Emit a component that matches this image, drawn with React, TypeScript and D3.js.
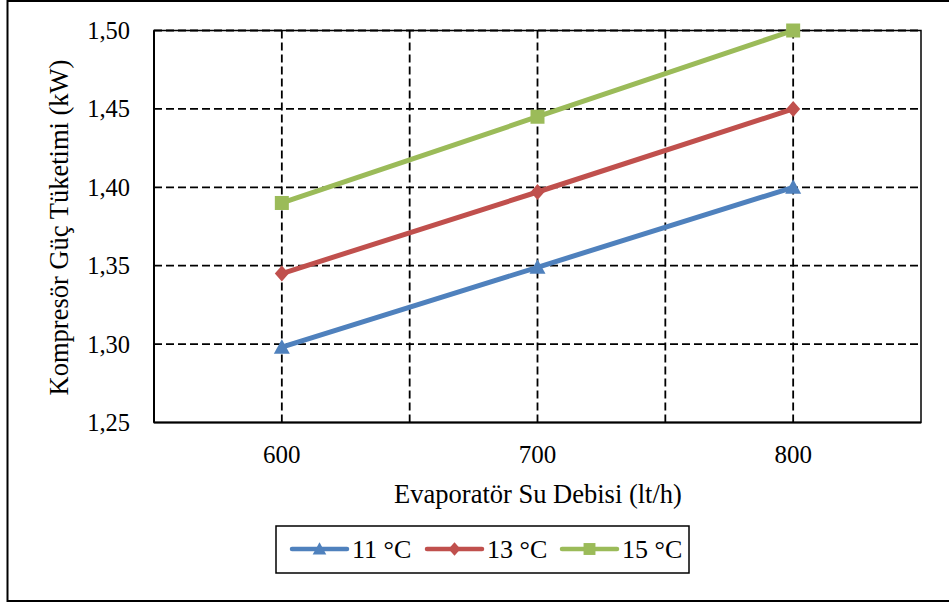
import React from "react";
import * as d3 from "d3";

const flows = [600, 700, 800];
const series11 = [1.298, 1.349, 1.4];
const series13 = [1.345, 1.397, 1.45];
const series15 = [1.39, 1.445, 1.5];
const seriesNames = ["11 °C", "13 °C", "15 °C"];
const seriesColors = ["#4F81BD", "#C0504D", "#9BBB59"];
const seriesMarkers = ["triangle", "diamond", "square"];
const yTicks = [1.25, 1.3, 1.35, 1.4, 1.45, 1.5];
const xGrid = [550, 600, 650, 700, 750, 800, 850];
const xLabels = [600, 700, 800];

const W = 949;
const H = 603;
const plot = { left: 154, right: 921, top: 30.5, bottom: 422.5 };
const FONT = "'Liberation Serif', 'Times New Roman', serif";

function Marker({ kind, x, y, color, scale = 1 }: { kind: string; x: number; y: number; color: string; scale?: number }) {
  if (kind === "square") {
    const s = 14 * scale;
    return <rect x={x - s / 2} y={y - s / 2} width={s} height={s} fill={color} />;
  }
  if (kind === "diamond") {
    const rx = 7 * scale;
    const ry = 8 * scale;
    return <path d={`M${x},${y - ry}L${x + rx},${y}L${x},${y + ry}L${x - rx},${y}Z`} fill={color} />;
  }
  const r = 8 * scale;
  return (
    <path
      d={`M${x},${y - r}L${x + r},${y + r * 0.8}L${x - r},${y + r * 0.8}Z`}
      fill={color}
    />
  );
}

export default function App() {
  const x = d3.scaleLinear().domain([550, 850]).range([plot.left, plot.right]);
  const y = d3.scaleLinear().domain([1.25, 1.5]).range([plot.bottom, plot.top]);
  const all = [series11, series13, series15];
  const line = d3
    .line<number>()
    .x((_, i) => x(flows[i]))
    .y((d) => y(d));
  const fmt = (v: number) => v.toFixed(2).replace(".", ",");

  const legendItems = [
    { lx: 292, tx: 352 },
    { lx: 427, tx: 487 },
    { lx: 562, tx: 622 },
  ];

  return (
    <svg
      width={W}
      height={H}
      style={{ position: "absolute", left: 0, top: 0, background: "#fff" }}
      fontFamily={FONT}
    >
      <rect x={0} y={0} width={W} height={H} fill="#fff" />
      {/* chart frame */}
      <rect x={7.5} y={1} width={W + 10} height={600} fill="none" stroke="#000" strokeWidth={2} />

      {/* plot area frame */}
      <rect
        x={plot.left}
        y={plot.top}
        width={plot.right - plot.left}
        height={plot.bottom - plot.top}
        fill="none"
        stroke="#000"
        strokeWidth={1.5}
      />

      {/* gridlines */}
      {yTicks.slice(1).map((t) => (
        <line
          key={"gy" + t}
          x1={plot.left}
          x2={plot.right}
          y1={y(t)}
          y2={y(t)}
          stroke="#000"
          strokeWidth={1.8}
          strokeDasharray="8,4"
        />
      ))}
      {xGrid.slice(1, -1).map((t) => (
        <line
          key={"gx" + t}
          x1={x(t)}
          x2={x(t)}
          y1={plot.top}
          y2={plot.bottom}
          stroke="#000"
          strokeWidth={1.8}
          strokeDasharray="8,4"
        />
      ))}

      {/* axis lines */}
      <line x1={plot.left} x2={plot.left} y1={plot.top} y2={plot.bottom} stroke="#000" strokeWidth={2} />
      <line x1={plot.left} x2={plot.right} y1={plot.bottom} y2={plot.bottom} stroke="#000" strokeWidth={2} />

      {/* y tick labels */}
      {yTicks.map((t) => (
        <text
          key={"ty" + t}
          x={130}
          y={y(t)}
          dy="0.35em"
          textAnchor="end"
          fontSize={24.5}
          fill="#000"
        >
          {fmt(t)}
        </text>
      ))}
      {/* x tick labels */}
      {xLabels.map((t) => (
        <text key={"tx" + t} x={x(t)} y={463} textAnchor="middle" fontSize={25} fill="#000">
          {t}
        </text>
      ))}

      {/* axis titles */}
      <text x={538} y={503} textAnchor="middle" fontSize={26.5} fill="#000">
        Evaporatör Su Debisi (lt/h)
      </text>
      <text
        transform={`translate(68,227.5) rotate(-90)`}
        textAnchor="middle"
        fontSize={26.5}
        fill="#000"
      >
        Kompresör Güç Tüketimi (kW)
      </text>

      {/* series */}
      {all.map((vals, si) => (
        <g key={"s" + si}>
          <path
            d={line(vals) || ""}
            fill="none"
            stroke={seriesColors[si]}
            strokeWidth={5}
            strokeLinecap="round"
            strokeLinejoin="round"
          />
          {vals.map((v, i) => (
            <Marker
              key={i}
              kind={seriesMarkers[si]}
              x={x(flows[i])}
              y={y(v)}
              color={seriesColors[si]}
            />
          ))}
        </g>
      ))}

      {/* legend */}
      <rect x={276} y={526} width={413} height={47} fill="#fff" stroke="#000" strokeWidth={1.5} />
      {legendItems.map((it, i) => (
        <g key={"l" + i}>
          <line
            x1={it.lx}
            x2={it.lx + 55}
            y1={549}
            y2={549}
            stroke={seriesColors[i]}
            strokeWidth={4.5}
            strokeLinecap="round"
          />
          <Marker kind={seriesMarkers[i]} x={it.lx + 27.5} y={549} color={seriesColors[i]} scale={0.85} />
          <text x={it.tx} y={549} dy="0.35em" fontSize={26} fill="#000">
            {seriesNames[i]}
          </text>
        </g>
      ))}
    </svg>
  );
}
